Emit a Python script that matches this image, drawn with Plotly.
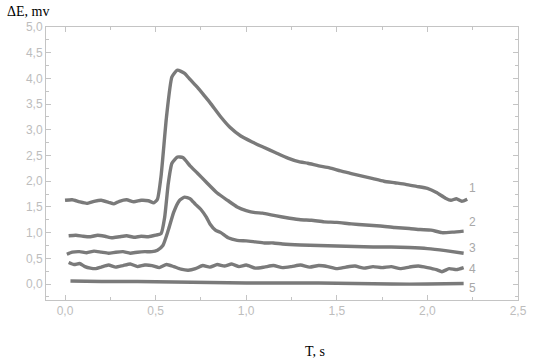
import plotly.graph_objects as go

# Curve data (T in s, dE in mV)
x1 = [0.0, 0.04, 0.08, 0.12, 0.16, 0.2, 0.24, 0.27, 0.3, 0.34, 0.38, 0.42, 0.46, 0.49, 0.51, 0.53, 0.56, 0.59, 0.62, 0.66, 0.69, 0.73, 0.77, 0.8, 0.86, 0.91, 0.97, 1.03, 1.09, 1.16, 1.23, 1.29, 1.34, 1.4, 1.46, 1.52, 1.58, 1.64, 1.7, 1.76, 1.82, 1.88, 1.94, 2.0, 2.05, 2.1, 2.13, 2.16, 2.19, 2.22]
y1 = [1.63, 1.64, 1.60, 1.57, 1.61, 1.63, 1.59, 1.56, 1.61, 1.64, 1.60, 1.63, 1.62, 1.58, 1.65, 2.1, 3.25, 4.03, 4.16, 4.1, 3.98, 3.83, 3.66, 3.53, 3.25, 3.05, 2.88, 2.77, 2.67, 2.56, 2.45, 2.38, 2.35, 2.3, 2.26, 2.2, 2.15, 2.1, 2.05, 2.0, 1.97, 1.94, 1.9, 1.86, 1.78, 1.67, 1.63, 1.66, 1.61, 1.65]

x2 = [0.02, 0.06, 0.1, 0.14, 0.18, 0.22, 0.26, 0.3, 0.34, 0.38, 0.42, 0.46, 0.5, 0.53, 0.55, 0.57, 0.59, 0.62, 0.65, 0.69, 0.73, 0.78, 0.84, 0.9, 0.95, 1.0, 1.05, 1.09, 1.16, 1.24, 1.3, 1.36, 1.43, 1.5, 1.58, 1.66, 1.74, 1.82, 1.9, 1.96, 2.02, 2.08, 2.14, 2.2]
y2 = [0.94, 0.95, 0.93, 0.92, 0.95, 0.93, 0.90, 0.92, 0.94, 0.91, 0.93, 0.92, 0.95, 0.98, 1.3, 1.96, 2.35, 2.47, 2.46, 2.3, 2.16, 1.98, 1.77, 1.62, 1.5, 1.43, 1.39, 1.38, 1.33, 1.28, 1.25, 1.24, 1.21, 1.2, 1.17, 1.15, 1.13, 1.1, 1.08, 1.06, 1.05, 1.0, 1.01, 1.03]

x3 = [0.01, 0.04, 0.08, 0.12, 0.16, 0.2, 0.24, 0.28, 0.32, 0.36, 0.4, 0.44, 0.48, 0.51, 0.54, 0.57, 0.6, 0.63, 0.66, 0.69, 0.72, 0.75, 0.78, 0.8, 0.83, 0.86, 0.9, 0.95, 1.0, 1.05, 1.1, 1.15, 1.2, 1.3, 1.4, 1.5, 1.6, 1.7, 1.8, 1.9, 2.0, 2.1, 2.2]
y3 = [0.58, 0.62, 0.63, 0.61, 0.64, 0.62, 0.60, 0.62, 0.63, 0.60, 0.62, 0.63, 0.63, 0.66, 0.75, 1.05, 1.4, 1.62, 1.69, 1.66, 1.55, 1.45, 1.3, 1.17, 1.05, 1.0, 0.9, 0.85, 0.84, 0.82, 0.8, 0.8, 0.78, 0.76, 0.75, 0.74, 0.73, 0.72, 0.72, 0.71, 0.69, 0.65, 0.6]

x4 = [0.02, 0.05, 0.08, 0.11, 0.14, 0.17, 0.2, 0.24, 0.28, 0.32, 0.36, 0.4, 0.44, 0.48, 0.52, 0.56, 0.6, 0.64, 0.68, 0.72, 0.76, 0.8, 0.84, 0.88, 0.92, 0.96, 1.0, 1.05, 1.1, 1.15, 1.2, 1.25, 1.3, 1.35, 1.4, 1.45, 1.5, 1.55, 1.6, 1.65, 1.7, 1.75, 1.8, 1.85, 1.9, 1.95, 2.0, 2.05, 2.08, 2.12, 2.16, 2.2]
y4 = [0.42, 0.38, 0.40, 0.34, 0.31, 0.30, 0.33, 0.37, 0.33, 0.36, 0.39, 0.34, 0.37, 0.36, 0.32, 0.38, 0.34, 0.29, 0.27, 0.30, 0.36, 0.33, 0.38, 0.35, 0.39, 0.34, 0.37, 0.31, 0.33, 0.36, 0.32, 0.34, 0.37, 0.33, 0.36, 0.34, 0.30, 0.33, 0.35, 0.31, 0.34, 0.32, 0.34, 0.30, 0.33, 0.35, 0.32, 0.28, 0.24, 0.30, 0.28, 0.32]

x5 = [0.03, 0.2, 0.4, 0.6, 0.8, 1.0, 1.2, 1.4, 1.6, 1.8, 2.0, 2.2]
y5 = [0.06, 0.05, 0.05, 0.04, 0.03, 0.02, 0.02, 0.02, 0.01, 0.0, 0.0, 0.01]

curve_labels = ["1", "2", "3", "4", "5"]
label_x = [2.25, 2.25, 2.25, 2.25, 2.25]
label_y = [1.87, 1.21, 0.70, 0.29, -0.08]

x_ticks = [0.0, 0.5, 1.0, 1.5, 2.0, 2.5]
y_ticks = [0.0, 0.5, 1.0, 1.5, 2.0, 2.5, 3.0, 3.5, 4.0, 4.5, 5.0]

LINE = "#7a7a7a"
AXIS = "#c4c4c4"
TICKFONT = dict(family="Liberation Sans, Arial, sans-serif", size=12, color="#bdbdbd")

fig = go.Figure()
for xs, ys in [(x1, y1), (x2, y2), (x3, y3), (x4, y4), (x5, y5)]:
    fig.add_trace(go.Scatter(x=xs, y=ys, mode="lines",
                             line=dict(color=LINE, width=3.4, shape="spline", smoothing=0.5),
                             showlegend=False, hoverinfo="skip"))

for t, lx, ly in zip(curve_labels, label_x, label_y):
    fig.add_annotation(x=lx, y=ly, text=t, showarrow=False, xanchor="center", yanchor="middle",
                       font=dict(family="Liberation Sans, Arial, sans-serif", size=12, color="#a8a8a8"))

fig.add_annotation(xref="paper", yref="paper", x=-0.087, y=1.055, text="ΔE, mv", showarrow=False,
                   xanchor="left", yanchor="middle",
                   font=dict(family="Liberation Serif, Times New Roman, serif", size=14, color="#000"))
fig.add_annotation(xref="paper", yref="paper", x=0.57, y=-0.19, text="T, s", showarrow=False,
                   xanchor="center", yanchor="middle",
                   font=dict(family="Liberation Serif, Times New Roman, serif", size=14, color="#000"))

fig.update_layout(
    width=543, height=363,
    margin=dict(l=46, r=25, t=27, b=63),
    paper_bgcolor="white", plot_bgcolor="white",
    separators=", ",
    showlegend=False,
)
fig.update_xaxes(range=[-0.105, 2.5], tickvals=x_ticks, tickformat=".1f",
                 showline=True, linecolor=AXIS, linewidth=1, mirror="ticks",
                 ticks="inside", ticklen=5, tickcolor=AXIS,
                 minor=dict(dtick=0.25, tick0=0, ticks="inside", ticklen=3, tickcolor=AXIS),
                 showgrid=False, zeroline=False, tickfont=TICKFONT)
fig.update_yaxes(range=[-0.31, 5.0], tickvals=y_ticks, tickformat=".1f",
                 showline=True, linecolor=AXIS, linewidth=1, mirror="ticks",
                 ticks="inside", ticklen=5, tickcolor=AXIS,
                 minor=dict(dtick=0.25, tick0=0, ticks="inside", ticklen=3, tickcolor=AXIS),
                 showgrid=False, zeroline=False, tickfont=TICKFONT)

fig.write_html("out.html")
